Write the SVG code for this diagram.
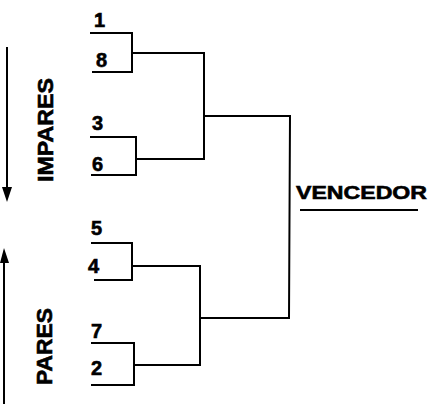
<svg xmlns="http://www.w3.org/2000/svg" width="428" height="404" viewBox="0 0 428 404">
<defs>
<style>
.ln{fill:none;stroke:#000;stroke-width:2;stroke-linecap:square}
.num{font-family:"Liberation Sans",Arial,sans-serif;font-weight:bold;font-size:20px;fill:#000;stroke:#000;stroke-width:0.6}
.lbl{font-family:"Liberation Sans",Arial,sans-serif;font-weight:bold;font-size:22px;fill:#000;stroke:#000;stroke-width:0.6}
</style>
</defs>
<rect width="428" height="404" fill="#fff"/>
<g id="arrow-impares">
<line class="ln" x1="7" y1="48" x2="7" y2="190"/>
<polygon points="2,187 12,187 7,202" fill="#000"/>
</g>
<g id="arrow-pares">
<line class="ln" x1="4" y1="260" x2="4" y2="404"/>
<polygon points="0,263 9,263 4,248" fill="#000"/>
</g>
<g id="label-impares"><text class="lbl" transform="translate(53,182) rotate(-90)" textLength="104" lengthAdjust="spacingAndGlyphs">IMPARES</text></g>
<g id="label-pares"><text class="lbl" transform="translate(52,385) rotate(-90)" textLength="77" lengthAdjust="spacingAndGlyphs">PARES</text></g>
<g id="team-1"><text class="num" x="94" y="27">1</text></g>
<g id="team-8"><text class="num" x="96" y="67">8</text></g>
<g id="team-3"><text class="num" x="92" y="130">3</text></g>
<g id="team-6"><text class="num" x="92" y="171">6</text></g>
<g id="team-5"><text class="num" x="91" y="235">5</text></g>
<g id="team-4"><text class="num" x="88" y="273">4</text></g>
<g id="team-7"><text class="num" x="91" y="338">7</text></g>
<g id="team-2"><text class="num" x="91" y="375">2</text></g>
<g id="vencedor">
<text x="296" y="199" font-family="'Liberation Sans',Arial,sans-serif" font-weight="bold" font-size="19" stroke="#000" stroke-width="0.6" textLength="131" lengthAdjust="spacingAndGlyphs">VENCEDOR</text>
<line x1="300" y1="210" x2="418" y2="210" stroke="#000" stroke-width="2"/>
</g>
<g id="connectors">
<polyline class="ln" points="91,33 132,33 132,72 93,72"/>
<polyline class="ln" points="91,137 136,137 136,175 92,175"/>
<polyline class="ln" points="92,243 132,243 132,280 95,280"/>
<polyline class="ln" points="92,343 134,343 134,385 92,385"/>
<polyline class="ln" points="132,53 204,53 204,159 136,159"/>
<polyline class="ln" points="132,266 200,266 200,365 134,365"/>
<polyline class="ln" points="204,116 290,116 289,318 200,318"/>
</g>
</svg>
